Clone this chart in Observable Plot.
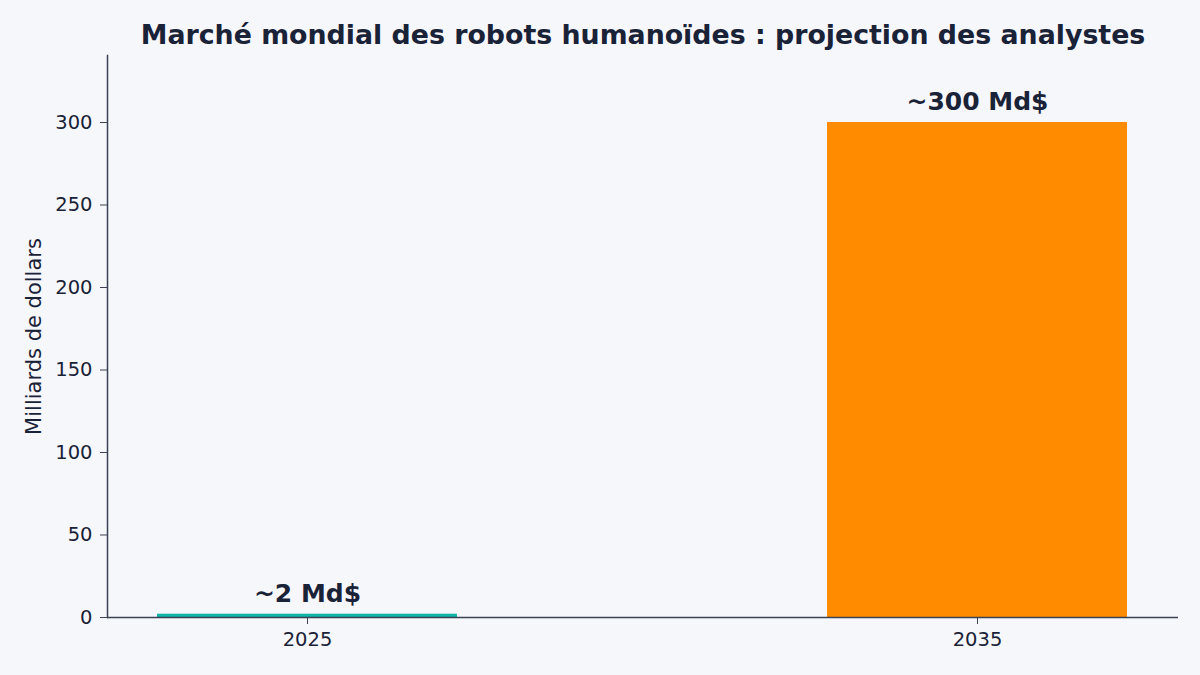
<!DOCTYPE html>
<html>
<head>
<meta charset="utf-8">
<script src="https://cdn.jsdelivr.net/npm/d3@7"></script>
<script src="https://cdn.jsdelivr.net/npm/@observablehq/plot@0.6"></script>
<style>
  html, body { margin: 0; padding: 0; background: #f5f7fb; }
  #chart svg { display: block; }
</style>
</head>
<body>
<div id="chart"></div>
<script>
const title = "Marché mondial des robots humanoïdes : projection des analystes";
const yLabel = "Milliards de dollars";
const years = ["2025", "2035"];
const values = [2, 300];
const valueLabels = ["~2 Md$", "~300 Md$"];
const barColors = ["#12b3a8", "#ff8c00"];
const yTicks = [0, 50, 100, 150, 200, 250, 300];

const data = years.map((y, i) => ({year: y, value: values[i], label: valueLabels[i], color: barColors[i]}));

const textColor = "#1a2238";
const axisColor = "#3b4052";

const chart = Plot.plot({
  width: 1200,
  height: 675,
  marginLeft: 107,
  marginRight: 22,
  marginTop: 55,
  marginBottom: 58,
  style: {background: "#f5f7fb", fontFamily: "DejaVu Sans", color: textColor},
  x: {domain: years, paddingInner: 0.552, paddingOuter: 0.075},
  y: {domain: [0, 340.6]},
  marks: [
    Plot.barY(data, {x: "year", y: "value", fill: "color"}),
    Plot.ruleY([0], {stroke: axisColor, strokeWidth: 1.5}),
    Plot.frame({anchor: "left", stroke: axisColor, strokeWidth: 1.5}),
    Plot.axisY({ticks: yTicks, tickSize: 7, tickPadding: 8, fontSize: 19.5, stroke: axisColor, fill: textColor,
      label: null}),
    Plot.text([yLabel], {frameAnchor: "left", dx: -73, rotate: -90, textAnchor: "middle", fontSize: 21, fill: textColor}),
    Plot.axisX({tickSize: 7, tickPadding: 8, fontSize: 19.5, stroke: axisColor, fill: textColor, label: null}),
    Plot.text(data, {x: "year", y: "value", text: "label", dy: -12, lineAnchor: "bottom",
      fontSize: 25, fontWeight: "bold", fill: textColor}),
    Plot.text([title], {frameAnchor: "top", dy: -12, lineAnchor: "bottom", fontSize: 26.8, fontWeight: "bold", fill: textColor})
  ]
});
document.getElementById("chart").appendChild(chart);
</script>
</body>
</html>
